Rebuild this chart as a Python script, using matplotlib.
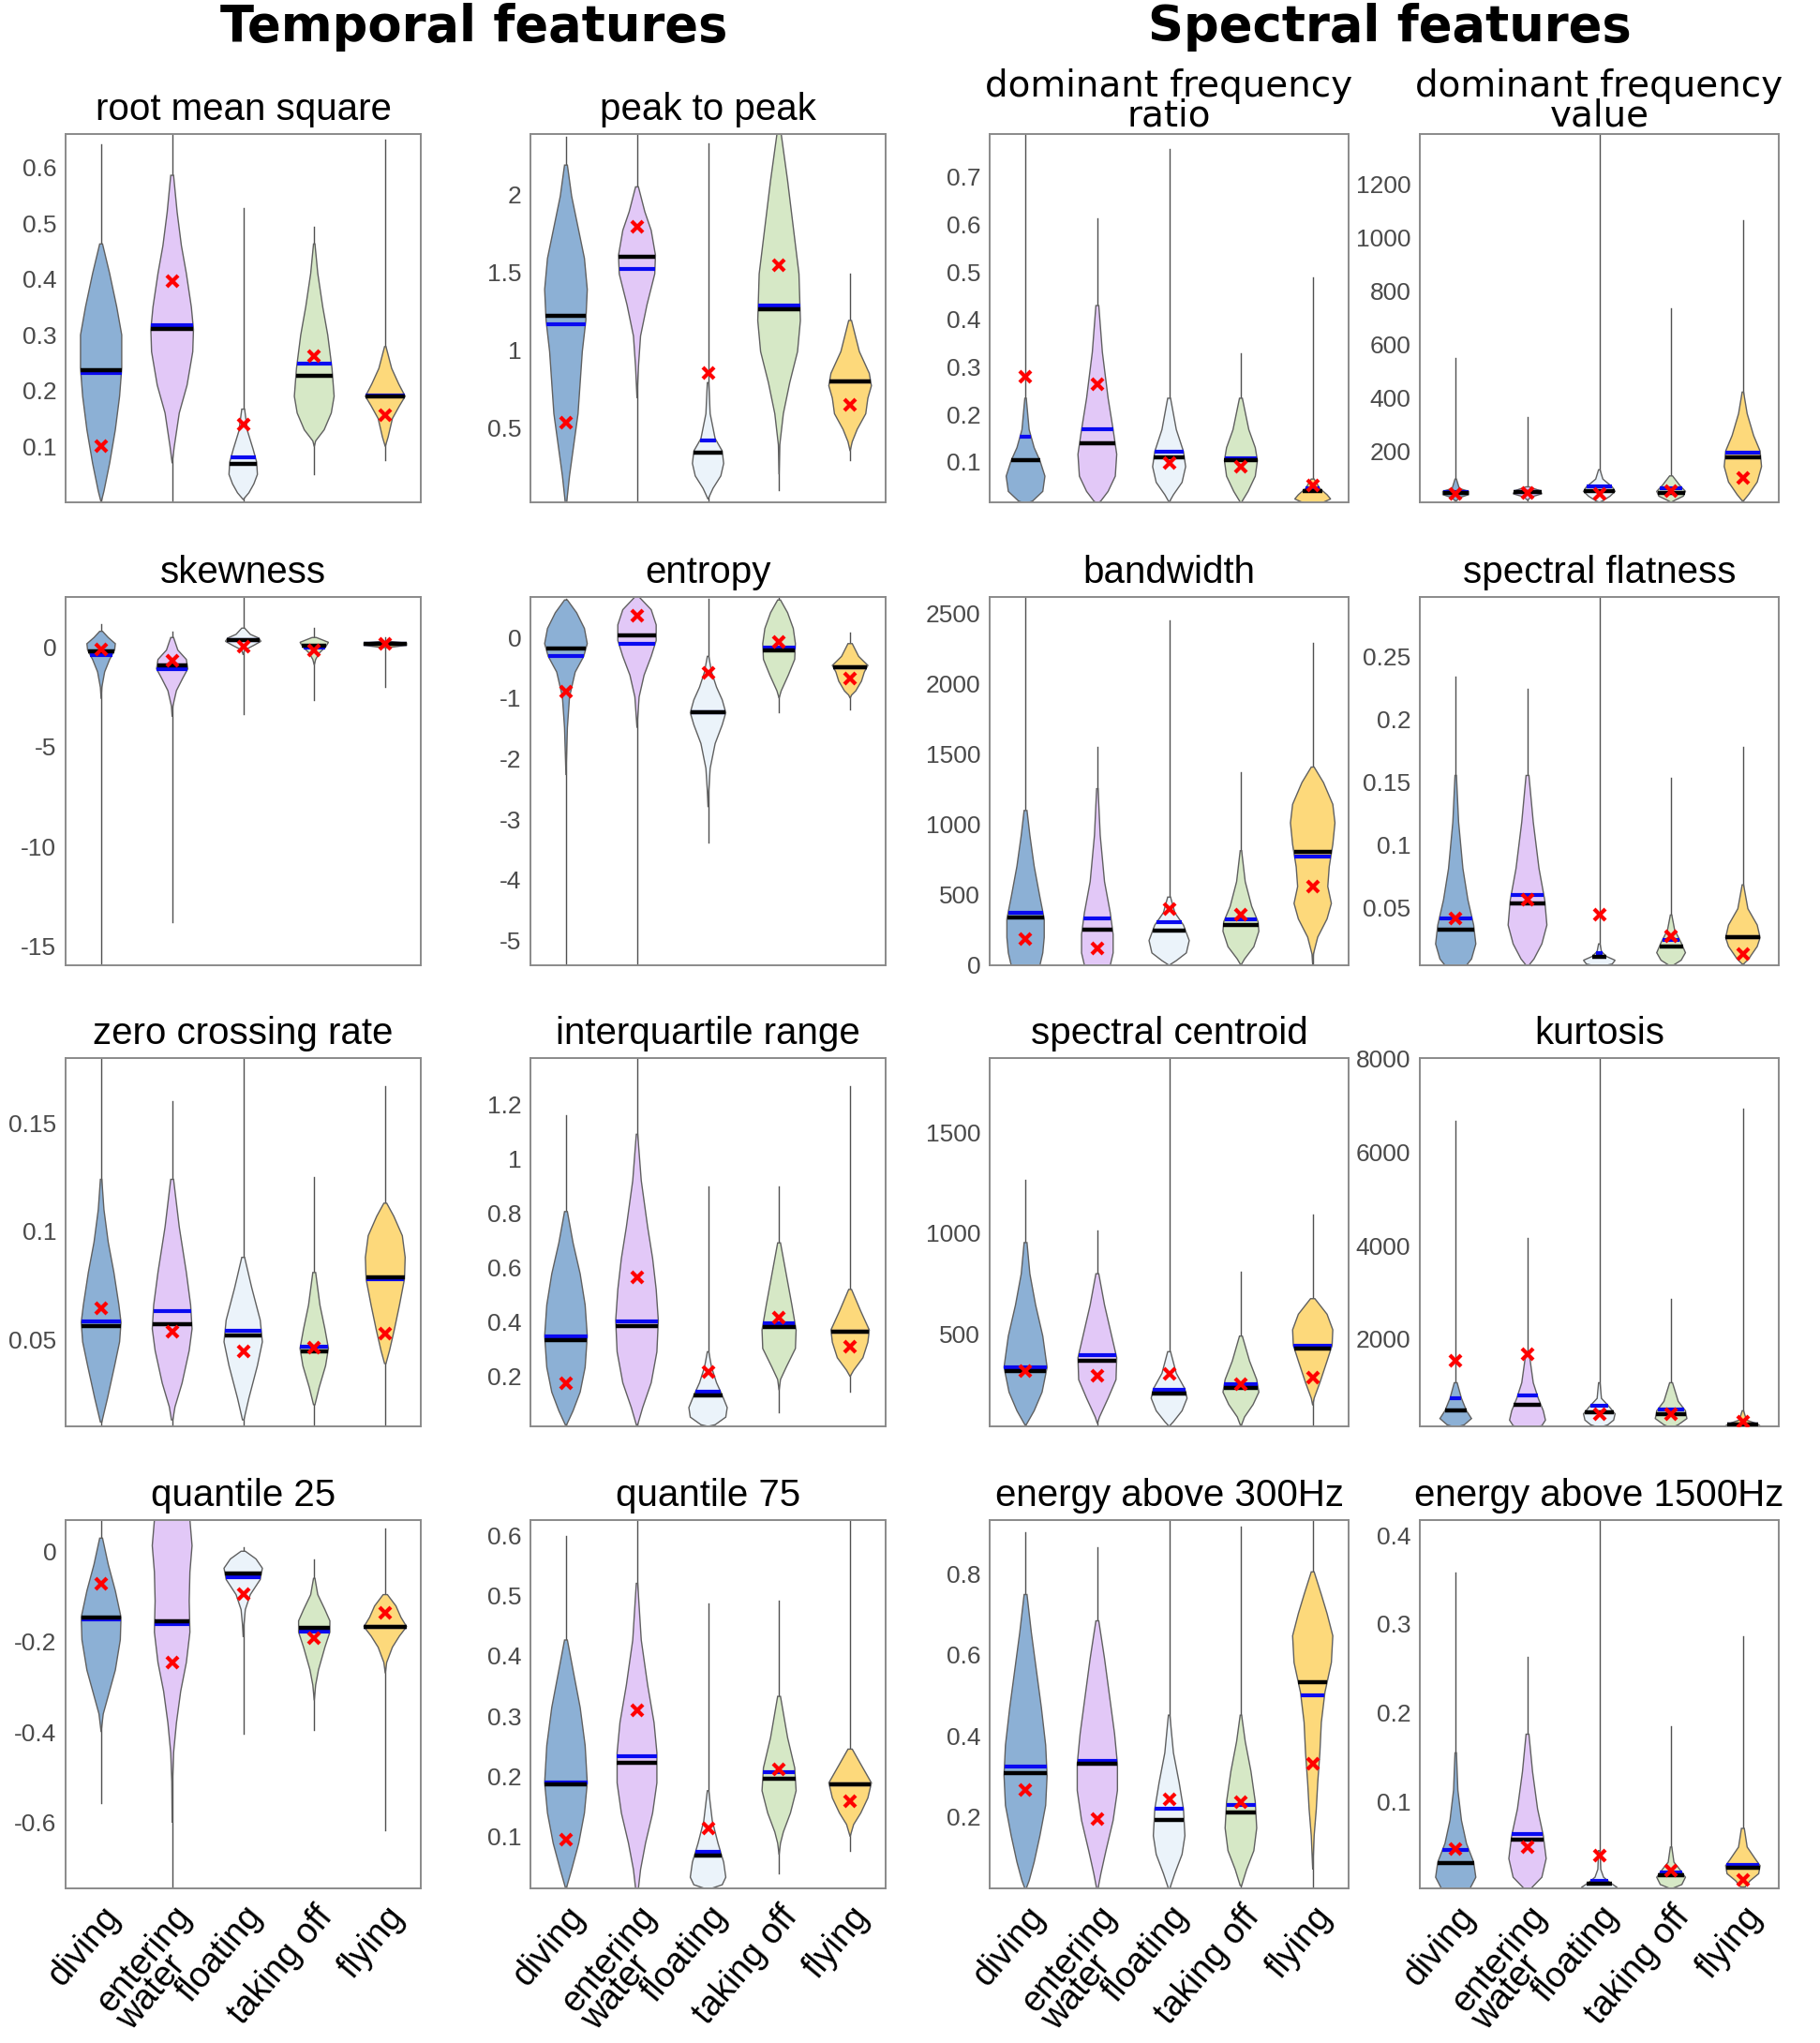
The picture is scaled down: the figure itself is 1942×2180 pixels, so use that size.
import numpy as np
import matplotlib
matplotlib.use("Agg")
import matplotlib.pyplot as plt
from matplotlib.ticker import FuncFormatter
from matplotlib.transforms import ScaledTranslation

plt.rcParams['font.family'] = ['Liberation Sans', 'DejaVu Sans']
plt.rcParams['axes.unicode_minus'] = False

GROUPS = ['diving', 'entering\nwater', 'floating', 'taking off', 'flying']
FILLS = ['#8cb0d5', '#e2c8f7', '#ebf3fa', '#d6e8c6', '#fdd97b']

# ---- data: tails (lo/hi), median, mean, red marker,
# ---- and violin outline as (y, half width) knots for each group

# root mean square
rms_lo = [0.0, 0.0, 0.0, 0.05, 0.075]
rms_hi = [0.642, 0.66, 0.527, 0.494, 0.65]
rms_med = [0.237, 0.31, 0.069, 0.226, 0.189]
rms_avg = [0.232, 0.317, 0.08, 0.249, 0.192]
rms_mark = [0.101, 0.396, 0.139, 0.262, 0.156]
rms_shape = [
    [(0.463, 0.02), (0.41, 0.12), (0.35, 0.22), (0.30, 0.29), (0.24, 0.29), (0.19, 0.26), (0.13, 0.2), (0.07, 0.12), (0.02, 0.04), (0.0, 0.0)],
    [(0.586, 0.02), (0.52, 0.07), (0.46, 0.13), (0.41, 0.2), (0.35, 0.27), (0.31, 0.3), (0.27, 0.29), (0.21, 0.21), (0.16, 0.1), (0.10, 0.03), (0.07, 0.0)],
    [(0.167, 0.02), (0.128, 0.06), (0.095, 0.14), (0.072, 0.19), (0.05, 0.2), (0.033, 0.15), (0.017, 0.08), (0.005, 0.0)],
    [(0.463, 0.01), (0.41, 0.05), (0.35, 0.12), (0.30, 0.19), (0.24, 0.25), (0.19, 0.28), (0.16, 0.24), (0.13, 0.14), (0.11, 0.02), (0.1, 0.0)],
    [(0.279, 0.01), (0.24, 0.09), (0.212, 0.19), (0.19, 0.28), (0.173, 0.2), (0.15, 0.1), (0.117, 0.04), (0.1, 0.0)],
]

# peak to peak
p2p_lo = [0.02, 0.02, 0.02, 0.1, 0.29]
p2p_hi = [2.37, 2.39, 2.33, 2.39, 1.49]
p2p_med = [1.22, 1.6, 0.34, 1.26, 0.8]
p2p_avg = [1.166, 1.52, 0.42, 1.284, 0.8]
p2p_mark = [0.534, 1.79, 0.85, 1.546, 0.65]
p2p_shape = [
    [(2.19, 0.02), (1.99, 0.08), (1.79, 0.17), (1.59, 0.26), (1.39, 0.3), (1.19, 0.28), (0.99, 0.23), (0.79, 0.2), (0.59, 0.17), (0.39, 0.11), (0.19, 0.05), (0.02, 0.01)],
    [(2.05, 0.02), (1.89, 0.11), (1.77, 0.2), (1.61, 0.26), (1.49, 0.25), (1.29, 0.14), (1.09, 0.05), (0.89, 0.02), (0.69, 0.0)],
    [(0.79, 0.01), (0.59, 0.03), (0.43, 0.1), (0.35, 0.2), (0.27, 0.22), (0.19, 0.18), (0.11, 0.07), (0.06, 0.02), (0.04, 0.0)],
    [(2.39, 0.03), (2.09, 0.12), (1.79, 0.2), (1.49, 0.28), (1.19, 0.3), (0.99, 0.26), (0.79, 0.15), (0.59, 0.06), (0.39, 0.01), (0.2, 0.0)],
    [(1.19, 0.02), (0.99, 0.13), (0.85, 0.27), (0.77, 0.3), (0.69, 0.25), (0.59, 0.22), (0.49, 0.1), (0.41, 0.03), (0.35, 0.0)],
]

# dominant frequency ratio
dfr_lo = [0.015, 0.015, 0.015, 0.015, 0.015]
dfr_hi = [0.79, 0.612, 0.759, 0.328, 0.488]
dfr_med = [0.103, 0.139, 0.109, 0.103, 0.039]
dfr_avg = [0.154, 0.168, 0.122, 0.108, 0.044]
dfr_mark = [0.279, 0.263, 0.097, 0.09, 0.051]
dfr_shape = [
    [(0.234, 0.01), (0.168, 0.05), (0.13, 0.12), (0.103, 0.2), (0.07, 0.27), (0.038, 0.24), (0.018, 0.1), (0.012, 0.0)],
    [(0.429, 0.02), (0.331, 0.07), (0.234, 0.15), (0.168, 0.22), (0.116, 0.27), (0.07, 0.25), (0.038, 0.15), (0.018, 0.05), (0.012, 0.0)],
    [(0.234, 0.02), (0.168, 0.1), (0.122, 0.2), (0.09, 0.23), (0.057, 0.18), (0.031, 0.06), (0.015, 0.0)],
    [(0.234, 0.02), (0.168, 0.11), (0.13, 0.2), (0.103, 0.23), (0.07, 0.2), (0.038, 0.1), (0.018, 0.02), (0.012, 0.0)],
    [(0.064, 0.02), (0.044, 0.1), (0.031, 0.2), (0.022, 0.25), (0.012, 0.1)],
]

# dominant frequency value
dfv_lo = [8, 8, 8, 8, 8]
dfv_hi = [549, 328, 1388, 735, 1065]
dfv_med = [43, 45, 49, 43, 177]
dfv_avg = [47, 47, 66, 60, 194]
dfv_mark = [40, 43, 40, 51, 101]
dfv_shape = [
    [(95, 0.01), (60, 0.05), (49, 0.18), (37, 0.18), (26, 0.06), (14, 0.01)],
    [(66, 0.02), (51, 0.18), (40, 0.2), (28, 0.05), (16, 0.0)],
    [(130, 0.01), (95, 0.05), (66, 0.18), (49, 0.22), (31, 0.15), (14, 0.05), (8, 0.0)],
    [(107, 0.02), (72, 0.12), (49, 0.2), (31, 0.17), (14, 0.04), (8, 0.0)],
    [(421, 0.01), (340, 0.06), (258, 0.15), (200, 0.24), (142, 0.26), (84, 0.2), (37, 0.08), (14, 0.01)],
]

# skewness
skw_lo = [-15.94, -13.8, -3.36, -2.66, -2.0]
skw_hi = [1.13, 0.75, 2.5, 0.94, 0.47]
skw_med = [-0.2, -0.91, 0.36, 0.08, 0.16]
skw_avg = [-0.39, -1.13, 0.36, -0.03, 0.16]
skw_mark = [-0.13, -0.7, 0.03, -0.19, 0.16]
skw_shape = [
    [(0.78, 0.02), (0.47, 0.1), (0.16, 0.2), (-0.16, 0.19), (-0.63, 0.12), (-1.25, 0.05), (-2.03, 0.01), (-2.6, 0.0)],
    [(0.47, 0.02), (-0.16, 0.08), (-0.63, 0.2), (-1.1, 0.22), (-1.56, 0.15), (-2.19, 0.06), (-2.97, 0.01), (-3.5, 0.0)],
    [(0.94, 0.02), (0.63, 0.1), (0.44, 0.22), (0.28, 0.25), (0.08, 0.15), (-0.16, 0.02), (-0.4, 0.0)],
    [(0.47, 0.03), (0.23, 0.2), (0.0, 0.16), (-0.31, 0.07), (-0.63, 0.02), (-0.9, 0.0)],
    [(0.28, 0.05), (0.19, 0.3), (0.08, 0.3), (-0.03, 0.05)],
]

# entropy
ent_lo = [-5.41, -5.41, -3.38, -1.24, -1.19]
ent_hi = [0.64, 0.67, 0.64, 0.67, 0.08]
ent_med = [-0.18, 0.03, -1.23, -0.21, -0.49]
ent_avg = [-0.3, -0.1, -1.23, -0.16, -0.49]
ent_mark = [-0.9, 0.36, -0.59, -0.08, -0.67]
ent_shape = [
    [(0.62, 0.02), (0.41, 0.15), (0.15, 0.26), (-0.1, 0.3), (-0.31, 0.25), (-0.57, 0.13), (-0.98, 0.05), (-1.49, 0.02), (-2.27, 0.0)],
    [(0.67, 0.03), (0.46, 0.2), (0.21, 0.27), (-0.05, 0.27), (-0.31, 0.2), (-0.62, 0.1), (-0.98, 0.03), (-1.49, 0.0)],
    [(-0.31, 0.01), (-0.57, 0.05), (-0.82, 0.12), (-1.03, 0.2), (-1.24, 0.25), (-1.44, 0.2), (-1.75, 0.1), (-2.16, 0.03), (-2.53, 0.01), (-2.8, 0.0)],
    [(0.62, 0.02), (0.41, 0.12), (0.15, 0.2), (-0.1, 0.23), (-0.36, 0.22), (-0.62, 0.13), (-0.88, 0.03), (-1.0, 0.0)],
    [(-0.1, 0.03), (-0.31, 0.12), (-0.46, 0.25), (-0.57, 0.2), (-0.72, 0.16), (-0.88, 0.08), (-0.95, 0.02), (-1.0, 0.0)],
]

# bandwidth
bw_lo = [0, 0, 0, 0, 0]
bw_hi = [2620, 1553, 2456, 1370, 2295]
bw_med = [341, 253, 247, 286, 804]
bw_avg = [374, 335, 308, 326, 775]
bw_mark = [187, 121, 401, 357, 562]
bw_shape = [
    [(1101, 0.02), (925, 0.06), (705, 0.12), (485, 0.2), (330, 0.26), (198, 0.26), (88, 0.24), (0, 0.2)],
    [(1256, 0.01), (925, 0.04), (595, 0.1), (374, 0.18), (220, 0.22), (88, 0.22), (0, 0.18)],
    [(485, 0.02), (374, 0.08), (286, 0.2), (176, 0.28), (88, 0.24), (33, 0.1), (0, 0.0)],
    [(815, 0.01), (595, 0.06), (419, 0.15), (308, 0.24), (242, 0.25), (132, 0.18), (44, 0.05), (0, 0.0)],
    [(1410, 0.02), (1300, 0.15), (1145, 0.28), (1013, 0.31), (860, 0.28), (700, 0.23), (560, 0.21), (440, 0.26), (330, 0.2), (200, 0.07), (80, 0.01), (0, 0.0)],
]

# spectral flatness
sf_lo = [0.004, 0.004, 0.004, 0.004, 0.004]
sf_hi = [0.234, 0.224, 0.297, 0.153, 0.178]
sf_med = [0.032, 0.053, 0.011, 0.019, 0.026]
sf_avg = [0.041, 0.06, 0.014, 0.024, 0.026]
sf_mark = [0.041, 0.056, 0.044, 0.027, 0.013]
sf_shape = [
    [(0.155, 0.01), (0.118, 0.04), (0.081, 0.1), (0.056, 0.17), (0.036, 0.25), (0.021, 0.28), (0.009, 0.22), (0.004, 0.15)],
    [(0.155, 0.02), (0.118, 0.08), (0.081, 0.16), (0.056, 0.24), (0.036, 0.27), (0.021, 0.2), (0.009, 0.09), (0.004, 0.02)],
    [(0.021, 0.01), (0.015, 0.03), (0.011, 0.1), (0.008, 0.22), (0.005, 0.18), (0.004, 0.1)],
    [(0.044, 0.01), (0.032, 0.05), (0.022, 0.14), (0.014, 0.2), (0.008, 0.14), (0.004, 0.03)],
    [(0.068, 0.01), (0.049, 0.07), (0.036, 0.2), (0.026, 0.24), (0.019, 0.2), (0.009, 0.08), (0.005, 0.01)],
]

# zero crossing rate
zcr_lo = [0.01, 0.01, 0.01, 0.01, 0.01]
zcr_hi = [0.18, 0.16, 0.18, 0.125, 0.167]
zcr_med = [0.0564, 0.057, 0.052, 0.0448, 0.0787]
zcr_avg = [0.0585, 0.0633, 0.054, 0.0467, 0.0777]
zcr_mark = [0.0647, 0.0535, 0.0448, 0.0462, 0.053]
zcr_shape = [
    [(0.124, 0.01), (0.11, 0.04), (0.095, 0.1), (0.081, 0.18), (0.066, 0.25), (0.058, 0.28), (0.049, 0.26), (0.038, 0.19), (0.023, 0.09), (0.012, 0.01)],
    [(0.124, 0.02), (0.102, 0.1), (0.081, 0.2), (0.066, 0.26), (0.055, 0.28), (0.045, 0.24), (0.03, 0.14), (0.019, 0.04), (0.013, 0.01)],
    [(0.088, 0.02), (0.074, 0.12), (0.059, 0.24), (0.049, 0.27), (0.038, 0.2), (0.023, 0.08), (0.013, 0.01)],
    [(0.081, 0.02), (0.066, 0.08), (0.055, 0.15), (0.046, 0.2), (0.038, 0.16), (0.028, 0.07), (0.02, 0.01)],
    [(0.113, 0.02), (0.107, 0.12), (0.098, 0.24), (0.088, 0.28), (0.078, 0.27), (0.066, 0.2), (0.055, 0.13), (0.045, 0.06), (0.039, 0.01)],
]

# interquartile range
iqr_lo = [0.017, 0.017, 0.017, 0.069, 0.143]
iqr_hi = [1.16, 1.37, 0.897, 0.9, 1.265]
iqr_med = [0.335, 0.385, 0.129, 0.381, 0.366]
iqr_avg = [0.349, 0.403, 0.143, 0.397, 0.366]
iqr_mark = [0.177, 0.566, 0.217, 0.415, 0.309]
iqr_shape = [
    [(0.806, 0.02), (0.691, 0.1), (0.577, 0.2), (0.463, 0.27), (0.349, 0.3), (0.234, 0.27), (0.143, 0.2), (0.074, 0.1), (0.023, 0.01)],
    [(1.09, 0.01), (0.92, 0.06), (0.749, 0.15), (0.634, 0.22), (0.52, 0.27), (0.406, 0.3), (0.291, 0.28), (0.177, 0.2), (0.086, 0.08), (0.023, 0.01)],
    [(0.291, 0.01), (0.234, 0.05), (0.177, 0.12), (0.131, 0.2), (0.086, 0.27), (0.051, 0.25), (0.023, 0.1), (0.017, 0.0)],
    [(0.691, 0.02), (0.577, 0.1), (0.463, 0.18), (0.371, 0.24), (0.303, 0.23), (0.234, 0.1), (0.189, 0.02), (0.15, 0.0)],
    [(0.52, 0.02), (0.44, 0.15), (0.371, 0.27), (0.326, 0.25), (0.269, 0.18), (0.223, 0.05), (0.2, 0.0)],
]

# spectral centroid
sc_lo = [46, 46, 46, 46, 46]
sc_hi = [1265, 1012, 1866, 808, 1092]
sc_med = [320, 372, 208, 238, 431]
sc_avg = [338, 397, 228, 254, 443]
sc_mark = [320, 295, 305, 254, 289]
sc_shape = [
    [(954, 0.02), (800, 0.06), (646, 0.14), (492, 0.24), (338, 0.3), (215, 0.23), (123, 0.12), (54, 0.01)],
    [(800, 0.02), (646, 0.1), (492, 0.2), (385, 0.27), (277, 0.26), (185, 0.15), (92, 0.03), (60, 0.0)],
    [(415, 0.02), (308, 0.1), (231, 0.22), (185, 0.25), (123, 0.18), (69, 0.06), (46, 0.0)],
    [(492, 0.02), (369, 0.12), (277, 0.22), (215, 0.25), (154, 0.17), (92, 0.05), (54, 0.01)],
    [(677, 0.03), (600, 0.2), (523, 0.28), (446, 0.27), (369, 0.2), (262, 0.1), (185, 0.02), (150, 0.0)],
]

# kurtosis
kur_lo = [133, 133, 133, 133, 133]
kur_hi = [6667, 4167, 8020, 2867, 6933]
kur_med = [467, 587, 433, 400, 167]
kur_avg = [733, 787, 567, 500, 167]
kur_mark = [1547, 1680, 387, 400, 233]
kur_shape = [
    [(1067, 0.02), (733, 0.08), (467, 0.15), (300, 0.22), (167, 0.12), (133, 0.05)],
    [(1733, 0.02), (1067, 0.08), (733, 0.15), (467, 0.22), (267, 0.25), (147, 0.2), (133, 0.15)],
    [(1067, 0.01), (733, 0.03), (533, 0.15), (400, 0.22), (267, 0.2), (167, 0.12), (133, 0.05)],
    [(1067, 0.02), (667, 0.1), (467, 0.2), (300, 0.22), (167, 0.1), (133, 0.05)],
    [(467, 0.01), (267, 0.05), (187, 0.2), (133, 0.25)],
]

# quantile 25
q25_lo = [-0.558, -0.746, -0.404, -0.396, -0.617]
q25_hi = [0.069, 0.069, 0.008, -0.019, 0.05]
q25_med = [-0.146, -0.156, -0.05, -0.169, -0.167]
q25_avg = [-0.151, -0.161, -0.058, -0.1775, -0.167]
q25_mark = [-0.0725, -0.246, -0.094, -0.192, -0.136]
q25_shape = [
    [(0.029, 0.02), (-0.029, 0.1), (-0.0875, 0.2), (-0.146, 0.28), (-0.196, 0.27), (-0.263, 0.2), (-0.32, 0.1), (-0.36, 0.03), (-0.4, 0.0)],
    [(0.069, 0.25), (0.0125, 0.28), (-0.046, 0.25), (-0.11, 0.24), (-0.179, 0.25), (-0.246, 0.2), (-0.31, 0.12), (-0.38, 0.06), (-0.446, 0.02), (-0.51, 0.005), (-0.6, 0.0)],
    [(0.0, 0.03), (-0.017, 0.18), (-0.0375, 0.27), (-0.0625, 0.24), (-0.096, 0.1), (-0.129, 0.03), (-0.1625, 0.01), (-0.19, 0.0)],
    [(-0.06, 0.01), (-0.096, 0.05), (-0.129, 0.15), (-0.154, 0.22), (-0.179, 0.22), (-0.2125, 0.15), (-0.2625, 0.06), (-0.296, 0.02), (-0.33, 0.0)],
    [(-0.096, 0.03), (-0.121, 0.15), (-0.146, 0.22), (-0.167, 0.3), (-0.1875, 0.2), (-0.2125, 0.1), (-0.246, 0.02), (-0.27, 0.0)],
]

# quantile 75
q75_lo = [0.014, 0.014, 0.014, 0.039, 0.076]
q75_hi = [0.598, 0.625, 0.486, 0.492, 0.625]
q75_med = [0.186, 0.223, 0.069, 0.196, 0.186]
q75_avg = [0.19, 0.2325, 0.075, 0.2075, 0.186]
q75_mark = [0.095, 0.309, 0.114, 0.211, 0.159]
q75_shape = [
    [(0.426, 0.02), (0.376, 0.1), (0.314, 0.2), (0.251, 0.27), (0.189, 0.3), (0.139, 0.26), (0.089, 0.18), (0.045, 0.08), (0.014, 0.005)],
    [(0.52, 0.01), (0.426, 0.06), (0.351, 0.15), (0.289, 0.24), (0.239, 0.28), (0.189, 0.28), (0.139, 0.22), (0.089, 0.12), (0.045, 0.05), (0.014, 0.02)],
    [(0.176, 0.01), (0.126, 0.06), (0.089, 0.14), (0.0575, 0.22), (0.0325, 0.25), (0.02, 0.2), (0.014, 0.05)],
    [(0.3325, 0.02), (0.264, 0.12), (0.214, 0.22), (0.176, 0.24), (0.139, 0.16), (0.1075, 0.06), (0.089, 0.02), (0.07, 0.0)],
    [(0.245, 0.03), (0.22, 0.15), (0.189, 0.3), (0.164, 0.25), (0.139, 0.15), (0.12, 0.05), (0.1, 0.0)],
]

# energy above 300Hz
e3_lo = [0.023, 0.023, 0.023, 0.023, 0.023]
e3_hi = [0.902, 0.865, 0.933, 0.916, 0.933]
e3_med = [0.307, 0.33, 0.193, 0.211, 0.533]
e3_avg = [0.323, 0.338, 0.219, 0.228, 0.5]
e3_mark = [0.265, 0.195, 0.242, 0.235, 0.33]
e3_shape = [
    [(0.749, 0.02), (0.656, 0.08), (0.563, 0.15), (0.47, 0.22), (0.377, 0.28), (0.302, 0.3), (0.228, 0.28), (0.153, 0.2), (0.088, 0.12), (0.042, 0.05), (0.023, 0.01)],
    [(0.684, 0.02), (0.591, 0.1), (0.498, 0.17), (0.405, 0.24), (0.33, 0.28), (0.265, 0.28), (0.191, 0.22), (0.116, 0.12), (0.06, 0.05), (0.023, 0.01)],
    [(0.451, 0.01), (0.358, 0.06), (0.284, 0.14), (0.219, 0.2), (0.153, 0.22), (0.107, 0.18), (0.06, 0.08), (0.023, 0.01)],
    [(0.451, 0.01), (0.386, 0.06), (0.312, 0.14), (0.237, 0.2), (0.172, 0.22), (0.116, 0.18), (0.07, 0.08), (0.03, 0.01)],
    [(0.805, 0.02), (0.749, 0.12), (0.702, 0.2), (0.647, 0.28), (0.581, 0.26), (0.507, 0.17), (0.433, 0.12), (0.358, 0.1), (0.284, 0.07), (0.219, 0.05), (0.153, 0.02), (0.09, 0.005), (0.07, 0.0)],
]

# energy above 1500Hz
e15_lo = [0.0025, 0.0025, 0.0025, 0.0025, 0.0025]
e15_hi = [0.358, 0.263, 0.417, 0.185, 0.286]
e15_med = [0.031, 0.057, 0.0077, 0.017, 0.026]
e15_avg = [0.046, 0.064, 0.011, 0.02, 0.029]
e15_mark = [0.047, 0.049, 0.039, 0.023, 0.012]
e15_shape = [
    [(0.155, 0.01), (0.113, 0.03), (0.079, 0.08), (0.053, 0.15), (0.032, 0.25), (0.015, 0.28), (0.0025, 0.2)],
    [(0.176, 0.02), (0.134, 0.07), (0.092, 0.14), (0.062, 0.22), (0.036, 0.26), (0.015, 0.2), (0.0025, 0.05)],
    [(0.045, 0.01), (0.024, 0.02), (0.015, 0.06), (0.009, 0.15), (0.0035, 0.25), (0.0025, 0.2)],
    [(0.049, 0.01), (0.032, 0.04), (0.024, 0.12), (0.015, 0.2), (0.0068, 0.15), (0.0025, 0.02)],
    [(0.07, 0.02), (0.049, 0.06), (0.036, 0.17), (0.028, 0.24), (0.019, 0.22), (0.011, 0.1), (0.004, 0.03)],
]

# title, y-limits, y-ticks, data, grid position
PANELS = [
    ('root mean square', (0, 0.66), [0.1, 0.2, 0.3, 0.4, 0.5, 0.6], rms_lo, rms_hi, rms_med, rms_avg, rms_mark, rms_shape, 0, 0),
    ('peak to peak', (0.02, 2.39), [0.5, 1, 1.5, 2], p2p_lo, p2p_hi, p2p_med, p2p_avg, p2p_mark, p2p_shape, 0, 1),
    ('dominant frequency\nratio', (0.015, 0.79), [0.1, 0.2, 0.3, 0.4, 0.5, 0.6, 0.7], dfr_lo, dfr_hi, dfr_med, dfr_avg, dfr_mark, dfr_shape, 0, 2),
    ('dominant frequency\nvalue', (8, 1388), [200, 400, 600, 800, 1000, 1200], dfv_lo, dfv_hi, dfv_med, dfv_avg, dfv_mark, dfv_shape, 0, 3),
    ('skewness', (-15.94, 2.5), [-15, -10, -5, 0], skw_lo, skw_hi, skw_med, skw_avg, skw_mark, skw_shape, 1, 0),
    ('entropy', (-5.41, 0.67), [-5, -4, -3, -2, -1, 0], ent_lo, ent_hi, ent_med, ent_avg, ent_mark, ent_shape, 1, 1),
    ('bandwidth', (0, 2620), [0, 500, 1000, 1500, 2000, 2500], bw_lo, bw_hi, bw_med, bw_avg, bw_mark, bw_shape, 1, 2),
    ('spectral flatness', (0.004, 0.297), [0.05, 0.1, 0.15, 0.2, 0.25], sf_lo, sf_hi, sf_med, sf_avg, sf_mark, sf_shape, 1, 3),
    ('zero crossing rate', (0.01, 0.18), [0.05, 0.1, 0.15], zcr_lo, zcr_hi, zcr_med, zcr_avg, zcr_mark, zcr_shape, 2, 0),
    ('interquartile range', (0.017, 1.37), [0.2, 0.4, 0.6, 0.8, 1, 1.2], iqr_lo, iqr_hi, iqr_med, iqr_avg, iqr_mark, iqr_shape, 2, 1),
    ('spectral centroid', (46, 1866), [500, 1000, 1500], sc_lo, sc_hi, sc_med, sc_avg, sc_mark, sc_shape, 2, 2),
    ('kurtosis', (133, 8020), [2000, 4000, 6000, 8000], kur_lo, kur_hi, kur_med, kur_avg, kur_mark, kur_shape, 2, 3),
    ('quantile 25', (-0.746, 0.069), [-0.6, -0.4, -0.2, 0], q25_lo, q25_hi, q25_med, q25_avg, q25_mark, q25_shape, 3, 0),
    ('quantile 75', (0.014, 0.625), [0.1, 0.2, 0.3, 0.4, 0.5, 0.6], q75_lo, q75_hi, q75_med, q75_avg, q75_mark, q75_shape, 3, 1),
    ('energy above 300Hz', (0.023, 0.933), [0.2, 0.4, 0.6, 0.8], e3_lo, e3_hi, e3_med, e3_avg, e3_mark, e3_shape, 3, 2),
    ('energy above 1500Hz', (0.0025, 0.417), [0.1, 0.2, 0.3, 0.4], e15_lo, e15_hi, e15_med, e15_avg, e15_mark, e15_shape, 3, 3),
]

W, H = 1942, 2180
COL_LEFT = [70, 566, 1056, 1515]
COL_W = [379, 379, 383, 383]
ROW_TOP = [143, 637, 1129, 1622]
ROW_H = 393


def draw_violin(ax, x, shape, lo, hi, med, avg, mark, fill):
    ys = np.array([p[0] for p in shape], dtype=float)
    ws = np.array([p[1] for p in shape], dtype=float)
    ax.plot([x, x], [lo, hi], color='#505050', lw=1.0, zorder=1)
    px = np.concatenate([x + ws, (x - ws)[::-1]])
    py = np.concatenate([ys, ys[::-1]])
    ax.fill(px, py, facecolor=fill, edgecolor='#606060', lw=1.0, zorder=2)
    order = np.argsort(ys)
    for val, col, lw in [(avg, '#0a0af0', 3.0), (med, 'black', 3.2)]:
        w = np.interp(val, ys[order], ws[order])
        ax.plot([x - w, x + w], [val, val], color=col, lw=lw,
                solid_capstyle='butt', zorder=3)
    ax.plot(x, mark, 'x', color='red', ms=8, mew=3, zorder=4)


fig = plt.figure(figsize=(W / 100, H / 100), dpi=100)
xpos = np.arange(1, 6)
fmt = FuncFormatter(lambda v, p: '%g' % v)
shift_left = ScaledTranslation(-10 / 100, 0, fig.dpi_scale_trans)

for (title, ylim, ticks, lo, hi, med, avg, mark, shape, r, c) in PANELS:
    ax = fig.add_axes([COL_LEFT[c] / W, 1 - (ROW_TOP[r] + ROW_H) / H,
                       COL_W[c] / W, ROW_H / H])
    for i in range(5):
        draw_violin(ax, xpos[i], shape[i], lo[i], hi[i], med[i], avg[i],
                    mark[i], FILLS[i])
    ax.set_xlim(0.5, 5.5)
    ax.set_ylim(*ylim)
    ax.set_yticks(ticks)
    ax.yaxis.set_major_formatter(fmt)
    ax.tick_params(axis='y', length=0, pad=7, labelsize=19, labelcolor='#4a4a4a')
    for s in ax.spines.values():
        s.set_color('#8a8a8a')
        s.set_linewidth(1.4)
    if '\n' in title:
        ax.set_title(title, fontsize=28, family='DejaVu Sans', linespacing=0.8, pad=6)
    else:
        ax.set_title(title, fontsize=29, pad=11)
    if r == 3:
        ax.set_xticks(xpos)
        labels = ax.set_xticklabels(GROUPS, rotation=50, ha='right', va='top',
                                    rotation_mode='anchor', fontsize=27,
                                    multialignment='left', linespacing=0.75)
        for lab in labels:
            lab.set_transform(lab.get_transform() + shift_left)
        ax.tick_params(axis='x', length=0, pad=9)
    else:
        ax.set_xticks([])

fig.text(506 / W, 1 - 29 / H, 'Temporal features', ha='center', va='center',
         fontsize=38, weight='bold', family='DejaVu Sans')
fig.text(1483 / W, 1 - 29 / H, 'Spectral features', ha='center', va='center',
         fontsize=38, weight='bold', family='DejaVu Sans')

fig.savefig('out.png', dpi=100)
